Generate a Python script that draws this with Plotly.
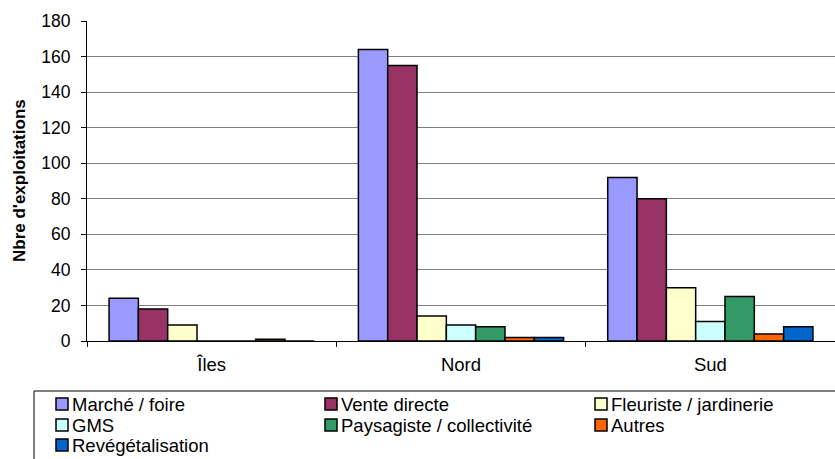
import plotly.graph_objects as go

# Zones and sales channels
regions = ["Îles", "Nord", "Sud"]
channels = ["Marché / foire", "Vente directe", "Fleuriste / jardinerie", "GMS",
            "Paysagiste / collectivité", "Autres", "Revégétalisation"]

marche = [24, 164, 92]
vente_directe = [18, 155, 80]
fleuriste = [9, 14, 30]
gms = [0, 9, 11]
paysagiste = [0, 8, 25]
autres = [1, 2, 4]
revegetalisation = [0, 2, 8]

series = [marche, vente_directe, fleuriste, gms, paysagiste, autres, revegetalisation]
colors = ["#9999FF", "#993366", "#FFFFCC", "#CCFFFF", "#339966", "#FF6600", "#0066CC"]

y_ticks = [0, 20, 40, 60, 80, 100, 120, 140, 160, 180]

font = "Liberation Sans, Arial, sans-serif"
fs_y = 17.5
fs_x = 18.5
fs_leg = 18.5
fs_title = 17
W, H = 835, 459
ml, mr, mt, mb = 87, 0, 21, 118
pw = W - ml - mr
ph = H - mt - mb


def px_x(x):
    """Pixel column -> paper x."""
    return (x - ml) / pw


def px_y(y):
    """Pixel row (from top) -> paper y."""
    return (H - mb - y) / ph


fig = go.Figure()
for name, vals, col in zip(channels, series, colors):
    fig.add_trace(go.Bar(
        x=regions, y=vals, name=name,
        marker=dict(color=col, line=dict(color="black", width=1.5)),
    ))

# Legend box below the plot, three entries per row
shapes = [dict(type="rect", xref="paper", yref="paper",
               x0=px_x(34), x1=px_x(W + 5), y0=px_y(391), y1=px_y(H + 20),
               line=dict(color="black", width=1), fillcolor="white", layer="above")]
annotations = []
col_x = [56, 325, 595]
row_y = [404, 425, 445]
sq = 12
for i, (name, col) in enumerate(zip(channels, colors)):
    cx = col_x[i % 3]
    cy = row_y[i // 3]
    shapes.append(dict(type="rect", xref="paper", yref="paper",
                       x0=px_x(cx), x1=px_x(cx + sq),
                       y0=px_y(cy + sq / 2), y1=px_y(cy - sq / 2),
                       line=dict(color="black", width=1.5), fillcolor=col, layer="above"))
    annotations.append(dict(text=name, xref="paper", yref="paper",
                            x=px_x(cx + sq + 3), y=px_y(cy),
                            xanchor="left", yanchor="middle", showarrow=False,
                            borderpad=0,
                            font=dict(family=font, size=fs_leg, color="black")))

# Y-axis title
annotations.append(dict(text="<b>Nbre d'exploitations</b>", xref="paper", yref="paper",
                        x=px_x(19), y=0.5, textangle=-90,
                        xanchor="center", yanchor="middle", showarrow=False,
                        font=dict(family=font, size=fs_title, color="black")))

fig.update_layout(
    width=W, height=H,
    margin=dict(l=ml, r=mr, t=mt, b=mb, pad=0),
    paper_bgcolor="white", plot_bgcolor="white",
    barmode="group", bargap=0.177, bargroupgap=0,
    font=dict(family=font, size=fs_y, color="black"),
    showlegend=False,
    shapes=shapes,
    annotations=annotations,
    xaxis=dict(
        type="category",
        showline=True, linecolor="black", linewidth=1,
        ticks="outside", tickson="boundaries", ticklen=5, tickcolor="black",
        showgrid=False,
        tickfont=dict(size=fs_x),
        ticklabelstandoff=7,
    ),
    yaxis=dict(
        range=[0, 180],
        tickvals=y_ticks,
        showline=True, linecolor="black", linewidth=1,
        ticks="outside", ticklen=5, tickcolor="black",
        showgrid=True, gridcolor="#808080", gridwidth=1,
        zeroline=False,
        tickfont=dict(size=fs_y),
        ticklabelstandoff=7,
    ),
)

fig.write_html("out.html")
